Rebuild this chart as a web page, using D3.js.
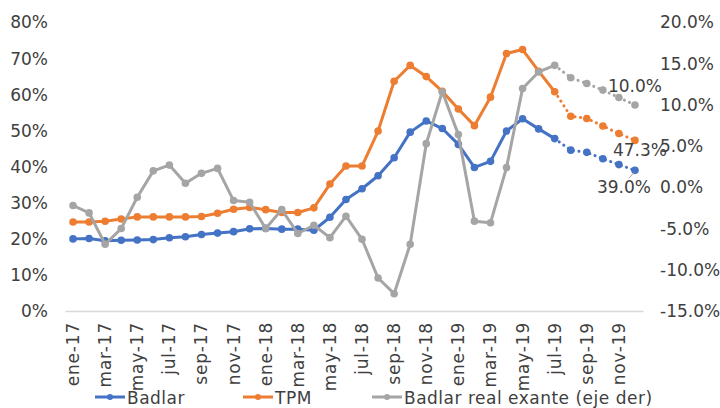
<!DOCTYPE html>
<html>
<head>
<meta charset="utf-8">
<script src="https://cdn.jsdelivr.net/npm/d3@7"></script>
<style>
  html, body { margin: 0; padding: 0; background: #fff; }
  svg { display: block; font-family: "DejaVu Sans", sans-serif; }
</style>
</head>
<body>
<svg id="chart" width="720" height="408"></svg>
<script>
// Monthly series, ene-17 .. dic-19 (percent)
const months = ["ene-17","feb-17","mar-17","abr-17","may-17","jun-17","jul-17","ago-17","sep-17","oct-17","nov-17","dic-17",
                "ene-18","feb-18","mar-18","abr-18","may-18","jun-18","jul-18","ago-18","sep-18","oct-18","nov-18","dic-18",
                "ene-19","feb-19","mar-19","abr-19","may-19","jun-19","jul-19","ago-19","sep-19","oct-19","nov-19","dic-19"];
const badlar = [20.0, 20.1, 19.5, 19.6, 19.7, 19.8, 20.3, 20.6, 21.2, 21.6, 22.0, 22.8,
                22.9, 22.7, 22.7, 22.4, 26.0, 30.9, 33.9, 37.5, 42.5, 49.6, 52.7, 50.6,
                46.2, 39.8, 41.5, 49.9, 53.3, 50.5, 47.8, 44.6, 44.0, 42.2, 40.6, 39.0];
const tpm = [24.7, 24.7, 24.9, 25.5, 26.1, 26.1, 26.1, 26.1, 26.2, 27.1, 28.2, 28.7,
             28.1, 27.3, 27.3, 28.6, 35.2, 40.2, 40.2, 49.9, 63.7, 68.1, 65.0, 60.9,
             56.0, 51.4, 59.3, 71.4, 72.5, 66.5, 60.8, 54.0, 53.4, 51.3, 49.2, 47.3];
const badlarReal = [-2.2, -3.1, -6.9, -5.0, -1.2, 2.0, 2.7, 0.5, 1.7, 2.3, -1.6, -1.8,
                    -5.0, -2.7, -5.6, -4.6, -6.1, -3.5, -6.3, -11.0, -12.9, -6.9, 5.3, 11.6,
                    6.4, -4.1, -4.3, 2.4, 12.0, 14.0, 14.8, 13.3, 12.6, 11.8, 10.9, 10.0];
// first month of the projected (dotted) stretch is the one after this index
const lastObserved = 30;
const leftTicks = [0, 10, 20, 30, 40, 50, 60, 70, 80];
const rightTicks = [-15, -10, -5, 0, 5, 10, 15, 20];
const xTickLabels = months.filter((m, i) => i % 2 === 0);

const colors = { badlar: "#4472C4", tpm: "#ED7D31", real: "#A5A5A5" };
const textColor = "#404040";

const svg = d3.select("#chart");
const plot = { left: 65, right: 643, top: 22.5, bottom: 311 };

const x = d3.scaleBand().domain(months).range([plot.left, plot.right]);
const cx = m => x(m) + x.bandwidth() / 2;
const yL = d3.scaleLinear().domain([0, 80]).range([plot.bottom, plot.top]);
const yR = d3.scaleLinear().domain([-15, 20]).range([plot.bottom, plot.top]);

// Left axis
const axL = svg.append("g")
  .attr("transform", `translate(${plot.left},0)`)
  .call(d3.axisLeft(yL).tickValues(leftTicks).tickSize(0).tickPadding(17).tickFormat(d => d + "%"));
axL.select(".domain").remove();
axL.selectAll("text").attr("fill", textColor).style("font-size", "17px").style("font-family", "DejaVu Sans");

// Right axis
const axR = svg.append("g")
  .attr("transform", `translate(${plot.right},0)`)
  .call(d3.axisRight(yR).tickValues(rightTicks).tickSize(0).tickPadding(17).tickFormat(d => d.toFixed(1) + "%"));
axR.select(".domain").remove();
axR.selectAll("text").attr("fill", textColor).style("font-size", "17px").style("font-family", "DejaVu Sans");

// Bottom axis with rotated month labels
const axB = svg.append("g")
  .attr("transform", `translate(0,${plot.bottom})`)
  .call(d3.axisBottom(x).tickValues(xTickLabels).tickSize(0));
axB.select(".domain").attr("stroke", "#D9D9D9").attr("stroke-width", 1.5);
axB.selectAll("text")
  .attr("fill", textColor)
  .style("font-size", "17px").style("font-family", "DejaVu Sans")
  .style("letter-spacing", "0.8px")
  .attr("text-anchor", "end")
  .attr("transform", "rotate(-90)")
  .attr("x", -11).attr("y", 0).attr("dy", "0.35em");

// Series
const series = [
  { key: "badlar", values: badlar, y: yL, color: colors.badlar },
  { key: "tpm", values: tpm, y: yL, color: colors.tpm },
  { key: "real", values: badlarReal, y: yR, color: colors.real }
];

series.forEach(s => {
  const pts = months.map((m, i) => ({ m, i, v: s.values[i] }));
  const line = d3.line().x(d => cx(d.m)).y(d => s.y(d.v));
  const g = svg.append("g").attr("class", "series-" + s.key);
  g.append("path")
    .datum(pts.filter(d => d.i <= lastObserved))
    .attr("d", line)
    .attr("fill", "none").attr("stroke", s.color).attr("stroke-width", 3)
    .attr("stroke-linejoin", "round");
  g.append("path")
    .datum(pts.filter(d => d.i >= lastObserved))
    .attr("d", line)
    .attr("fill", "none").attr("stroke", s.color).attr("stroke-width", 3)
    .attr("stroke-linecap", "round").attr("stroke-dasharray", "0.1 5.5");
  g.selectAll("circle").data(pts).join("circle")
    .attr("cx", d => cx(d.m)).attr("cy", d => s.y(d.v))
    .attr("r", 3.8).attr("fill", s.color);
});

// End-point value labels
const last = months.length - 1;
const lx = cx(months[last]);
const labels = [
  { v: badlarReal[last], y: yR(badlarReal[last]), dx: -27, dy: -13 },
  { v: tpm[last], y: yL(tpm[last]), dx: -22, dy: 16 },
  { v: badlar[last], y: yL(badlar[last]), dx: -38, dy: 23 }
];
svg.append("g").selectAll("text").data(labels).join("text")
  .attr("x", d => lx + d.dx).attr("y", d => d.y + d.dy)
  .attr("fill", textColor).style("font-size", "17px")
  .text(d => d.v.toFixed(1) + "%");
// leader line for the Badlar label
svg.append("line")
  .attr("x1", lx - 6).attr("y1", yL(badlar[last]) + 8)
  .attr("x2", lx - 1).attr("y2", yL(badlar[last]) + 2)
  .attr("stroke", "#A5A5A5").attr("stroke-width", 1);

// Legend
const legendItems = [
  { name: "Badlar", color: colors.badlar, x: 95 },
  { name: "TPM", color: colors.tpm, x: 243 },
  { name: "Badlar real exante (eje der)", color: colors.real, x: 372 }
];
const lg = svg.append("g").selectAll("g").data(legendItems).join("g")
  .attr("transform", d => `translate(${d.x},397)`);
lg.append("line").attr("x1", 0).attr("x2", 30).attr("y1", 0).attr("y2", 0)
  .attr("stroke", d => d.color).attr("stroke-width", 3);
lg.append("circle").attr("cx", 15).attr("cy", 0).attr("r", 3).attr("fill", d => d.color);
lg.append("text").attr("x", 32).attr("y", 6.5)
  .attr("fill", textColor).style("font-size", "17px").style("letter-spacing", "0.5px")
  .text(d => d.name);
</script>
</body>
</html>
